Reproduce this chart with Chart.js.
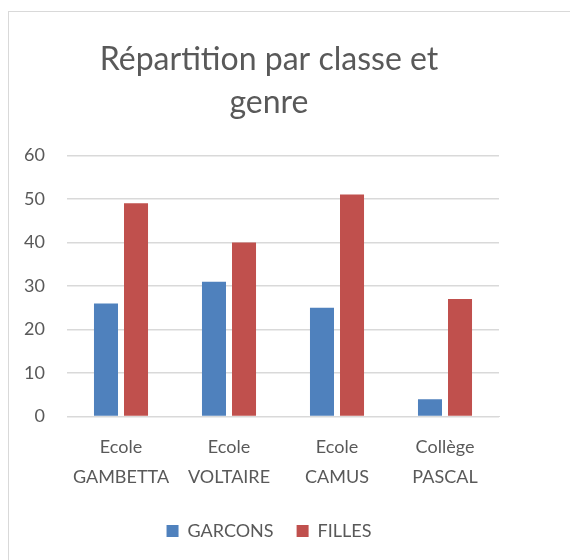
<!DOCTYPE html>
<html lang="fr">
<head>
  <meta charset="UTF-8" />
  <title>Répartition par classe et genre</title>
  <script src="https://cdn.jsdelivr.net/npm/chart.js"></script>
  <style>
    html, body { margin: 0; padding: 0; background: #fff; }
    #wrap { position: relative; width: 570px; height: 560px; overflow: hidden; }
    #frame { position: absolute; left: 8px; top: 11px; width: 600px; height: 600px; border: 1px solid #d9d9d9; box-sizing: border-box; pointer-events: none; }
    canvas { position: absolute; left: 0; top: 0; }
  </style>
</head>
<body>
  <div id="wrap">
    <div id="frame"></div>
    <canvas id="chart" width="570" height="560"></canvas>
  </div>

  <script>
    // data
    const titleLines = ['Répartition par classe et', 'genre'];
    const categories = [['Ecole', 'GAMBETTA'], ['Ecole', 'VOLTAIRE'], ['Ecole', 'CAMUS'], ['Collège', 'PASCAL']];
    const garcons = [26, 31, 25, 4];
    const filles = [49, 40, 51, 27];
    const yTicks = [0, 10, 20, 30, 40, 50, 60];

    const textColor = '#595959';
    const gridColor = '#d9d9d9';
    const fontFamily = 'Lato, "Open Sans", sans-serif';

    const ctx = document.getElementById('chart').getContext('2d');
    new Chart(ctx, {
      type: 'bar',
      data: {
        labels: categories,
        datasets: [
          { label: 'GARCONS', data: garcons, backgroundColor: '#4f81bd', categoryPercentage: 0.556, barPercentage: 0.8 },
          { label: 'FILLES', data: filles, backgroundColor: '#c0504d', categoryPercentage: 0.556, barPercentage: 0.8 }
        ]
      },
      options: {
        responsive: false,
        animation: false,
        // right padding keeps title and legend centred on the frame, not the plot
        layout: { padding: { left: 0, right: 32, top: 0, bottom: 10 } },
        plugins: {
          title: {
            display: true,
            text: titleLines,
            color: textColor,
            font: { family: fontFamily, size: 32, weight: 'normal', lineHeight: 1.35 },
            padding: { top: 38, bottom: 31 }
          },
          legend: {
            position: 'bottom',
            labels: {
              color: textColor,
              font: { family: fontFamily, size: 18 },
              boxWidth: 12,
              boxHeight: 12,
              padding: 14,
              // a little extra room after the first entry, like the reference
              generateLabels: (chart) => {
                const items = Chart.defaults.plugins.legend.labels.generateLabels(chart);
                items.forEach((it, i) => { if (i < items.length - 1) it.text += '\u2002'; });
                return items;
              }
            }
          },
          tooltip: { enabled: false }
        },
        scales: {
          x: {
            grid: { display: false, drawTicks: false },
            border: { color: gridColor, width: 1 },
            ticks: {
              color: textColor,
              font: { family: fontFamily, size: 18, lineHeight: 1.65 },
              padding: 16,
              maxRotation: 0
            }
          },
          y: {
            min: 0,
            max: 60,
            afterBuildTicks: (scale) => { scale.ticks = yTicks.map(v => ({ value: v })); },
            afterFit: (scale) => { scale.width = 67; },
            grid: { color: gridColor, lineWidth: 1.5, drawTicks: false },
            border: { display: false },
            ticks: {
              color: textColor,
              font: { family: fontFamily, size: 18 },
              padding: 22
            }
          },
          // empty spacer on the right so the plot ends where the reference does
          spacer: {
            type: 'linear',
            position: 'right',
            display: true,
            grid: { display: false, drawTicks: false },
            border: { display: false },
            ticks: { display: false },
            afterFit: (scale) => { scale.width = 39; }
          }
        }
      }
    });
  </script>
</body>
</html>
